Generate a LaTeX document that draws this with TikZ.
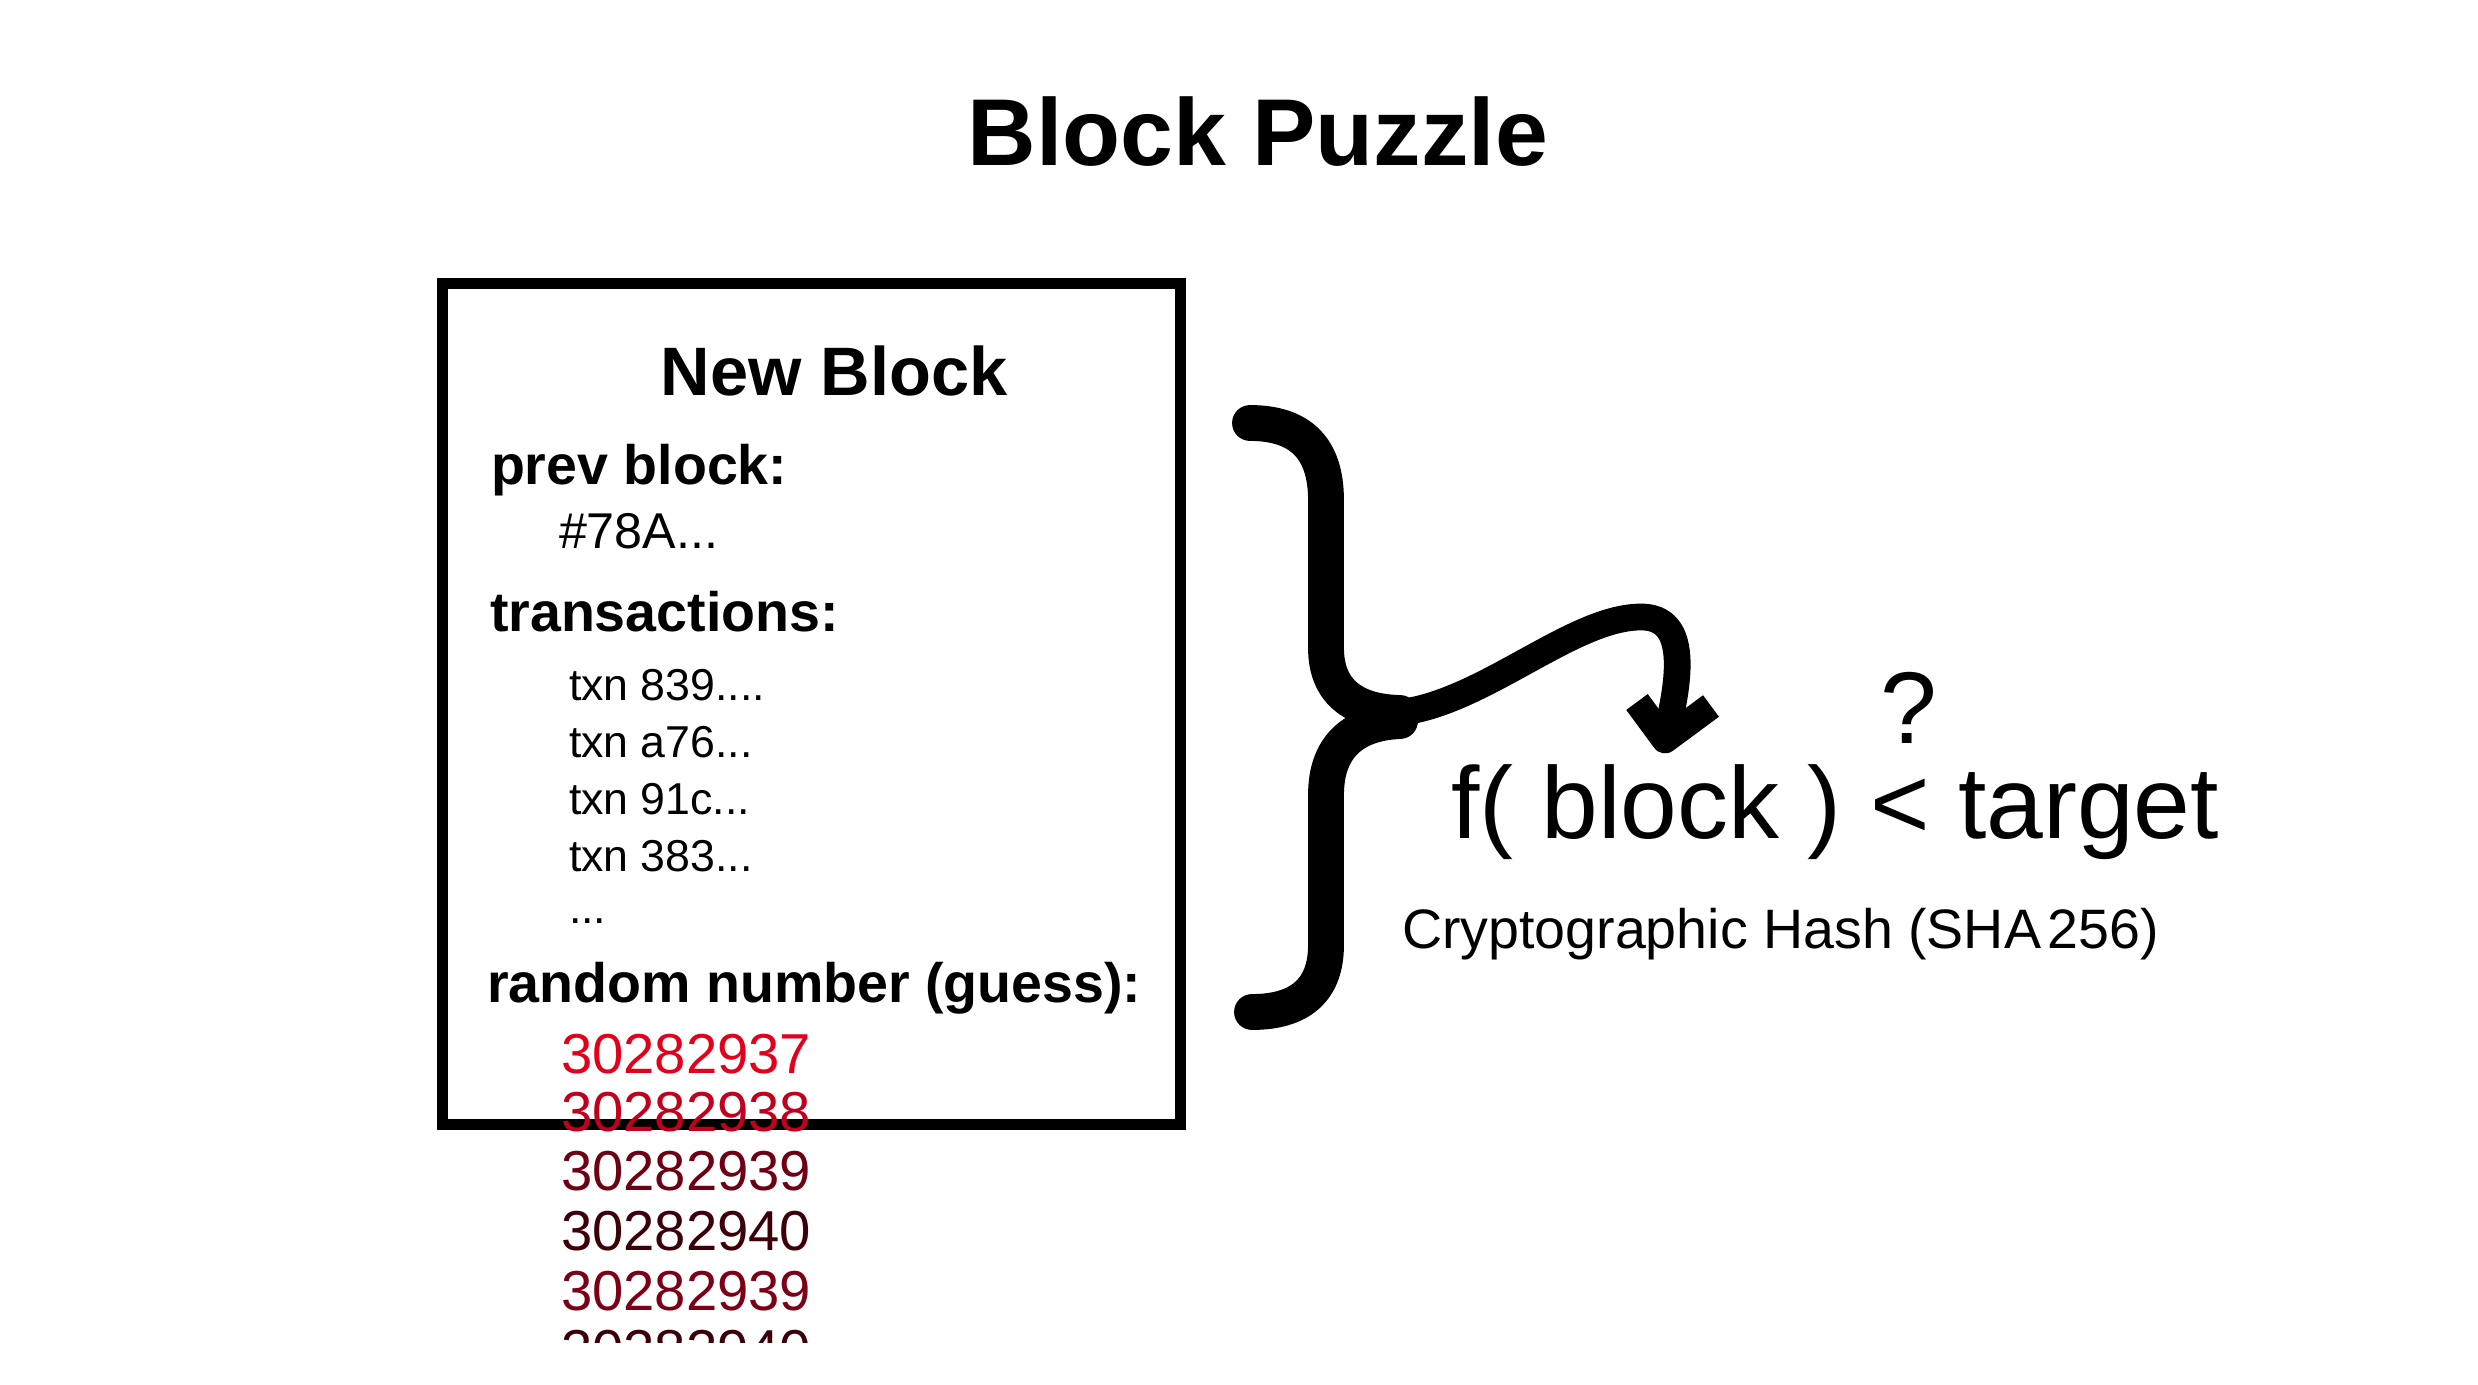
\documentclass[tikz,border=0pt]{standalone}
\usepackage{fontspec}
\setmainfont{Liberation Sans}
\definecolor{guessA}{HTML}{E2001A}
\definecolor{guessB}{HTML}{C0001C}
\definecolor{guessC}{HTML}{6E0014}
\definecolor{guessD}{HTML}{3C0008}
\definecolor{guessE}{HTML}{7C0016}
\definecolor{guessF}{HTML}{3C0008}
\begin{document}
\begin{tikzpicture}[x=0.01cm,y=-0.01cm,
  txt/.style={inner sep=0pt,outer sep=0pt,anchor=base west},
  label/.style={txt,font=\fontsize{15.8}{19}\selectfont\bfseries},
  entry/.style={txt,font=\fontsize{12.7}{15}\selectfont},
  guess/.style={txt,font=\fontsize{16}{19}\selectfont},
  bracestroke/.style={line width=10.2pt,line cap=round,line join=round},
  arrowstroke/.style={line width=7.6pt,line cap=butt,line join=round}]
\useasboundingbox[fill=white] (0,0) rectangle (2478,1385);

% title
\node[inner sep=0pt,anchor=base,font=\fontsize{27}{32}\selectfont\bfseries] (title) at (1258,166) {Block Puzzle};

% the block
\node[draw,line width=3.1pt,inner sep=0pt,minimum width=7.37cm,minimum height=8.40cm] (blockbox) at (811.5,704) {};
\node[inner sep=0pt,anchor=base,font=\fontsize{19.5}{23}\selectfont\bfseries] (blocktitle) at (834,395) {New Block};
\node[label] (prev) at (491,485) {prev block:};
\node[txt,font=\fontsize{14.3}{17}\selectfont] (prevhash) at (559,548) {\#78A...};
\node[label] (txns) at (490,631) {transactions:};
\node[entry] (t1) at (569,700) {txn 839....};
\node[entry] (t2) at (569,757) {txn a76...};
\node[entry] (t3) at (569,814) {txn 91c...};
\node[entry] (t4) at (569,871) {txn 383...};
\node[entry] (t5) at (569,923) {...};
\node[label] (nonce) at (487,1002) {random number (guess):};

% guesses running past the bottom of the block
\begin{scope}
  \clip (0,0) rectangle (2478,1342);
  \node[guess,text=guessA] (g1) at (561,1073) {30282937};
  \node[guess,text=guessB] (g2) at (561,1131) {30282938};
  \node[guess,text=guessC] (g3) at (561,1190) {30282939};
  \node[guess,text=guessD] (g4) at (561,1250) {30282940};
  \node[guess,text=guessE] (g5) at (561,1310) {30282939};
  \node[guess,text=guessF] (g6) at (561,1369) {30282940};
\end{scope}

% curly brace
\draw[bracestroke] (1250,423) .. controls (1300,423) and (1326,448) .. (1326,500)
  -- (1326,648) .. controls (1326,690) and (1352,712) .. (1400,713);
\draw[bracestroke] (1400,721) .. controls (1352,723) and (1326,748) .. (1326,795)
  -- (1326,945) .. controls (1326,990) and (1300,1012) .. (1252,1012);

% arrow into the hash
\coordinate (tip) at (1665,740);
\draw[arrowstroke] (1395,713) .. controls (1480,706) and (1570,618) .. (1640,617)
  .. controls (1690,616) and (1680,680) .. (tip);
\draw[arrowstroke] (1637,702) -- (tip) -- (1711,706);

% hash condition
\node[inner sep=0pt,anchor=base,font=\fontsize{29}{34}\selectfont] (q) at (1909,743) {?};
\node[txt,font=\fontsize{29}{34}\selectfont] (cond) at (1451,838) {f( block ) < target};
\node[txt,font=\fontsize{15.8}{19}\selectfont] (hash) at (1402,948) {Cryptographic Hash (SHA\hspace{0.12em}256)};
\end{tikzpicture}
\end{document}
